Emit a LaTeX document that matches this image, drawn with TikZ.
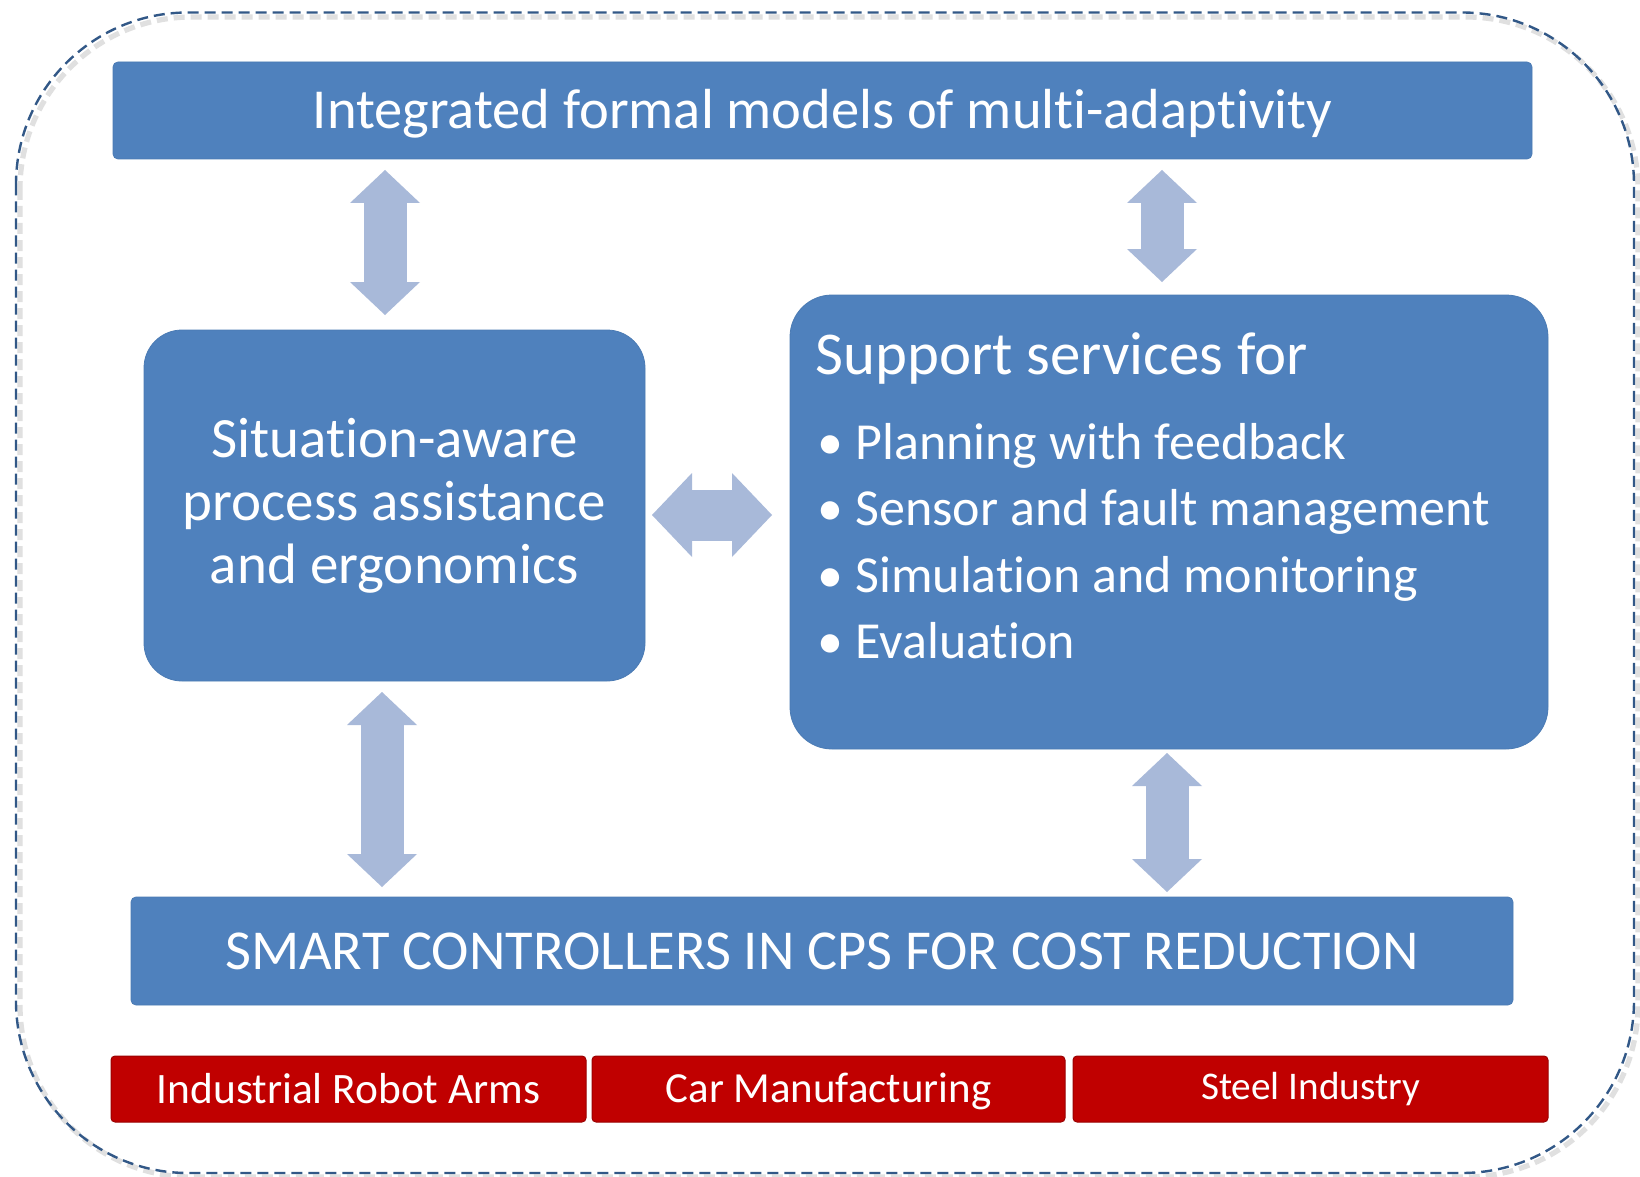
\documentclass[tikz,border=0pt]{standalone}
\usepackage{fontspec}
\setmainfont{Carlito}[Ligatures=NoCommon, Contextuals=NoAlternate]
\usetikzlibrary{arrows.meta}
\definecolor{boxblue}{HTML}{4F81BD}
\definecolor{arrowblue}{HTML}{A8B9D9}
\definecolor{redbox}{HTML}{C00000}
\definecolor{dashblue}{HTML}{325887}
\newcommand\bitem{\makebox[20pt][l]{\hspace{1.2pt}\textbullet}}
\begin{document}
\begin{tikzpicture}[x=0.5pt,y=-0.5pt,
  bluebar/.style={fill=boxblue, draw=boxblue!95!black, line width=0.4pt, rounded corners=2.5pt, text=white, inner sep=0pt},
  bluebox/.style={fill=boxblue, draw=boxblue!95!black, line width=0.4pt, text=white, inner sep=0pt},
  redlabel/.style={fill=redbox, draw=redbox!80!black, line width=0.5pt, rounded corners=2pt, text=white, inner sep=0pt,
    minimum height=33pt, text depth=0pt},
  vblk/.style={draw=arrowblue, line width=21.5pt,
    {Triangle[length=16.5pt,width=35pt,line width=0pt]}-{Triangle[length=16.5pt,width=35pt,line width=0pt]}},
  hblk/.style={draw=arrowblue, line width=25.5pt,
    {Triangle[length=20pt,width=42pt,line width=0pt]}-{Triangle[length=20pt,width=42pt,line width=0pt]}},
  outline/.style={draw=dashblue, line width=1.2pt, dash pattern=on 5.5pt off 3pt, rounded corners=86pt},
  outshadow/.style={draw=black!12, line width=2.6pt, dash pattern=on 5.5pt off 3pt, rounded corners=86pt}
]
\useasboundingbox (0,0) rectangle (1640,1177);
\fill[white] (0,0) rectangle (1640,1177);

% outer dashed frame with soft shadow
\draw[outshadow] (20,17) rectangle (1638,1177);
\draw[outline] (16,12.5) rectangle (1634,1173);

% top bar
\node[bluebar, minimum width=709.5pt, minimum height=48.5pt,
      font=\fontsize{28.25}{30}\selectfont, text height=18.2pt, text depth=0pt]
  (top) at (822.5,110.5) {Integrated formal models of multi-adaptivity};

% left box
\node[bluebox, rounded corners=19pt, minimum width=250.5pt, minimum height=175.5pt,
      align=center, font=\fontsize{28.5}{31.5}\selectfont]
  (left) at (394.5,505.5) {Situation-aware\\process assistance\\and ergonomics};

% right box
\node[bluebox, rounded corners=21pt, minimum width=379pt, minimum height=227pt]
  (sup) at (1169,522) {};
\node[anchor=base west, inner sep=0pt, text=white] (suptext) at (815,374)
  {\parbox[t]{360pt}{%
    {\fontsize{30.4}{33.3}\selectfont Support services for\par}%
    \vspace{9.2pt}%
    \fontsize{26}{33.3}\selectfont
    \bitem Planning with feedback\par
    \bitem Sensor and fault management\par
    \bitem Simulation and monitoring\par
    \bitem Evaluation\par}};

% bottom bar
\node[bluebar, minimum width=691pt, minimum height=54pt,
      font=\fontsize{28.2}{30}\selectfont, text height=18.2pt, text depth=0pt]
  (bot) at (822,951) {SMART CONTROLLERS IN CPS FOR COST REDUCTION};

% application domains
\node[redlabel, minimum width=237.5pt, font=\fontsize{21.7}{24}\selectfont, text height=14pt]
  (r1) at (348.5,1089) {Industrial Robot Arms};
\node[redlabel, minimum width=236.5pt, font=\fontsize{21.45}{24}\selectfont, text height=13.8pt]
  (r2) at (828.5,1089) {Car Manufacturing};
\node[redlabel, minimum width=237.5pt, font=\fontsize{19.6}{22}\selectfont, text height=12.6pt, text depth=2pt]
  (r3) at (1310.5,1089) {Steel Industry};

% block arrows
\coordinate (a1s) at (385,170);  \coordinate (a1e) at (385,315);
\coordinate (a2s) at (1162,170); \coordinate (a2e) at (1162,282);
\coordinate (a3s) at (652,515);  \coordinate (a3e) at (772,515);
\coordinate (a4s) at (382,692);  \coordinate (a4e) at (382,887);
\coordinate (a5s) at (1167,753); \coordinate (a5e) at (1167,892);
\draw[vblk] (a1s) -- (a1e);
\draw[vblk] (a2s) -- (a2e);
\draw[hblk] (a3s) -- (a3e);
\draw[vblk] (a4s) -- (a4e);
\draw[vblk] (a5s) -- (a5e);
\end{tikzpicture}
\end{document}
